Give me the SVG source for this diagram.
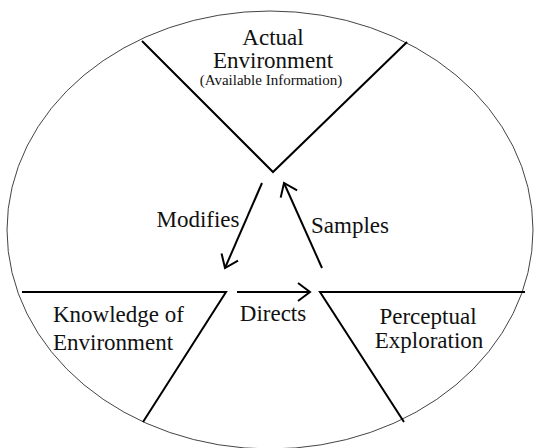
<svg xmlns="http://www.w3.org/2000/svg" width="534" height="448" viewBox="0 0 534 448">
  <style>
    .edge { stroke: #000; stroke-width: 2; fill: none; }
    .rim { stroke: #444; stroke-width: 1; fill: none; }
    .lbl { font-family: "Liberation Serif", "Times New Roman", serif; font-size: 23px; fill: #111; }
    .sub { font-family: "Liberation Serif", "Times New Roman", serif; font-size: 15px; fill: #111; }
    .mid { text-anchor: middle; }
  </style>
  <defs>
    <marker id="arrow" markerUnits="userSpaceOnUse" markerWidth="30" markerHeight="30" refX="0" refY="0" viewBox="-15 -15 30 30" orient="auto">
      <path d="M-12,-9 L0,0 L-12,9" fill="none" stroke="#000" stroke-width="2"/>
    </marker>
  </defs>
  <rect width="534" height="448" fill="#fff"/>

  <!-- outer boundary -->
  <ellipse class="rim" cx="270" cy="230" rx="263" ry="219"/>

  <!-- top sector -->
  <g id="actual-environment">
    <polyline class="edge" points="142,41 273,172 407,42"/>
    <text class="lbl mid" x="273" y="45">Actual</text>
    <text class="lbl mid" x="273" y="68">Environment</text>
    <text class="sub mid" x="271" y="85">(Available Information)</text>
  </g>

  <!-- lower left sector -->
  <g id="knowledge">
    <polyline class="edge" points="22,292 226,292 143,422"/>
    <text class="lbl" x="53" y="322">Knowledge of</text>
    <text class="lbl" x="53" y="350">Environment</text>
  </g>

  <!-- lower right sector -->
  <g id="exploration">
    <polyline class="edge" points="525,292 320,292 404,422"/>
    <text class="lbl mid" x="428" y="324">Perceptual</text>
    <text class="lbl mid" x="429" y="348">Exploration</text>
  </g>

  <!-- cycle connectors -->
  <g id="connectors">
    <line class="edge" x1="262" y1="183" x2="225" y2="268" marker-end="url(#arrow)"/>
    <line class="edge" x1="322" y1="268" x2="284" y2="183" marker-end="url(#arrow)"/>
    <line class="edge" x1="237" y1="292" x2="310" y2="292" marker-end="url(#arrow)"/>
    <text class="lbl mid" x="198" y="227">Modifies</text>
    <text class="lbl mid" x="350" y="233">Samples</text>
    <text class="lbl mid" x="273" y="321">Directs</text>
  </g>
</svg>
